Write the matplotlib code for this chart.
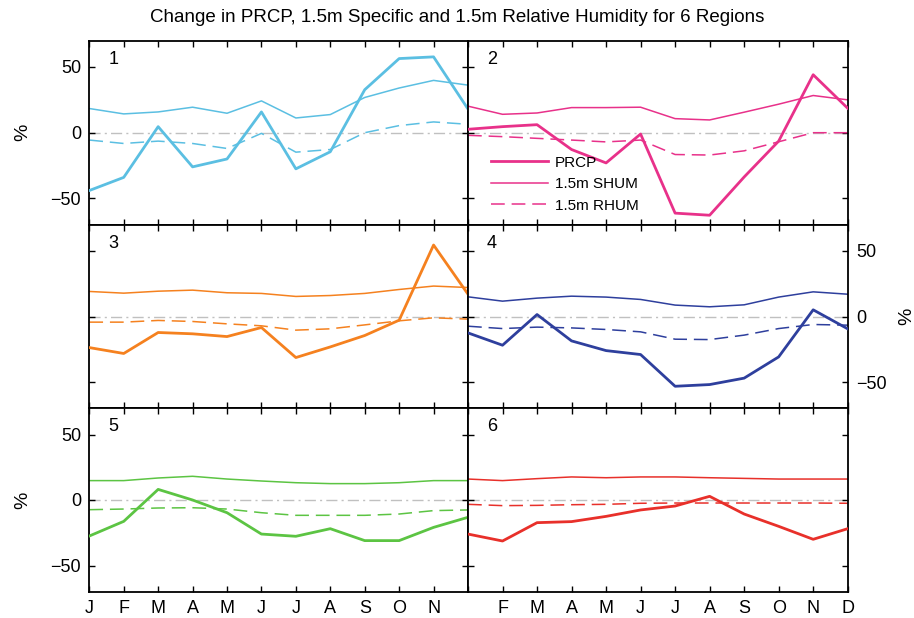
import matplotlib
matplotlib.use('Agg')
import matplotlib.pyplot as plt

plt.rcParams['font.family'] = ['Liberation Sans', 'DejaVu Sans']

months = ['J', 'F', 'M', 'A', 'M', 'J', 'J', 'A', 'S', 'O', 'N', 'D']
regions = ['1', '2', '3', '4', '5', '6']
colors = ['#5bbfe2', '#e8318a', '#f5811f', '#2e3f9d', '#5cc443', '#e8302a']

prcp = [
    [-44, -34, 4.6, -26, -20, 15.8, -27.5, -14.5, 32.7, 56.4, 57.7, 18],
    [2.6, 4.6, 6.1, -12.8, -23, -1, -61.2, -62.8, -33.7, -6.4, 44.1, 18.6],
    [-23.7, -28.2, -12.2, -13.2, -15.3, -8.4, -31.3, -23.2, -14.5, -2.8, 54.5, 17],
    [-12.5, -21.9, 1.5, -18.6, -26, -29, -53.2, -51.9, -47, -30.8, 5.1, -9.4],
    [-27.5, -16.3, 8.1, 0, -9.7, -26, -27.7, -21.9, -31, -31, -20.9, -13.2],
    [-26, -31.3, -17.3, -16.5, -12.5, -7.6, -4.6, 2.8, -10.7, -20.1, -30, -21.9],
]
shum = [
    [18.4, 14.3, 15.8, 19.4, 14.8, 24.2, 11.2, 13.8, 26.8, 34, 39.8, 36.2],
    [20.2, 14, 15, 19.1, 19.1, 19.4, 10.7, 9.7, 15.6, 21.7, 28.3, 25],
    [19.1, 17.8, 19.3, 20.1, 18.1, 17.6, 15.3, 16, 17.6, 20.6, 23.2, 22.1],
    [15, 11.7, 14, 15.5, 14.8, 13, 8.7, 7.4, 8.9, 14.8, 18.8, 17],
    [14.8, 14.8, 16.8, 18.1, 16, 14.5, 13.2, 12.5, 12.5, 13.2, 14.8, 14.8],
    [16, 14.8, 16.3, 17.6, 17, 17.6, 17.6, 17, 16.5, 16, 16, 16],
]
rhum = [
    [-5.6, -8.2, -6.4, -8.2, -12, -0.5, -14.8, -12.8, 0, 5.4, 8.2, 6.4],
    [-2, -3, -4.3, -5.6, -7, -5.6, -16.6, -17, -13.8, -6.9, 0, 0],
    [-4.3, -4.3, -3, -3.8, -5.6, -7.1, -10.4, -9.4, -6.4, -3.3, -1, -2],
    [-7.4, -9.2, -8.1, -8.7, -9.9, -11.7, -17.3, -17.6, -14.2, -9.2, -6.1, -6.6],
    [-7.4, -6.9, -6.1, -5.9, -6.9, -9.7, -11.7, -11.7, -11.7, -10.7, -8.1, -7.6],
    [-3.3, -4.3, -4.1, -3.6, -3.3, -2.5, -2.3, -2.3, -2.3, -2.3, -2.3, -2.5],
]

W, H = 914, 618
fig = plt.figure(figsize=(W / 100, H / 100), dpi=100)

xl = [89.3, 468.0]
xr = [468.0, 847.7]
rows = [(40.7, 224.7), (224.7, 408.3), (408.3, 591.7)]

x = list(range(12))
for i in range(6):
    r, c = divmod(i, 2)
    top, bot = rows[r]
    ax = fig.add_axes([xl[c] / W, 1 - bot / H, (xr[c] - xl[c]) / W, (bot - top) / H])
    col = colors[i]
    ax.axhline(0, color='#c0c0c0', lw=1.0, ls=(0, (8, 3, 1.5, 3)), zorder=1)
    l1, = ax.plot(x, prcp[i], color=col, lw=2.0, label='PRCP', zorder=3)
    l2, = ax.plot(x, shum[i], color=col, lw=1.1, label='1.5m SHUM', zorder=2)
    l3, = ax.plot(x, rhum[i], color=col, lw=1.1, ls=(0, (9, 4.5)), label='1.5m RHUM', zorder=2)
    ax.set_xlim(0, 11)
    ax.set_ylim(-70, 70)
    ax.set_yticks([-50, 0, 50])
    ax.set_xticks(x)
    ax.tick_params(direction='in', top=True, right=True, length=4, width=1,
                   labelsize=13, pad=6)
    for s in ax.spines.values():
        s.set_linewidth(1.3)
    ax.text(0.05, 0.9, regions[i], transform=ax.transAxes, fontsize=13,
            ha='left', va='center')

    if r == 2:
        if c == 0:
            ax.set_xticklabels(months[:11] + [''])
        else:
            ax.set_xticklabels([''] + months[1:])
    else:
        ax.set_xticklabels([])

    if i in (0, 4):
        ax.set_ylabel('%', fontsize=14, labelpad=14)
    elif i == 3:
        ax.yaxis.tick_right()
        ax.tick_params(axis='y', left=True, right=True, labelleft=False, labelright=True)
        ax.yaxis.set_label_position('right')
        ax.set_ylabel('%', fontsize=14, labelpad=8)
    else:
        ax.set_yticklabels([])

    if i == 1:
        ax.legend(handles=[l1, l2, l3], loc='lower left', bbox_to_anchor=(0.025, -0.01),
                  frameon=False, fontsize=11, handlelength=3.7, handletextpad=0.45,
                  labelspacing=0.5)

fig.suptitle('Change in PRCP, 1.5m Specific and 1.5m Relative Humidity for 6 Regions',
             x=0.5, y=1 - 18 / H, va='center', fontsize=13.5)

fig.savefig('out.png', dpi=100)
